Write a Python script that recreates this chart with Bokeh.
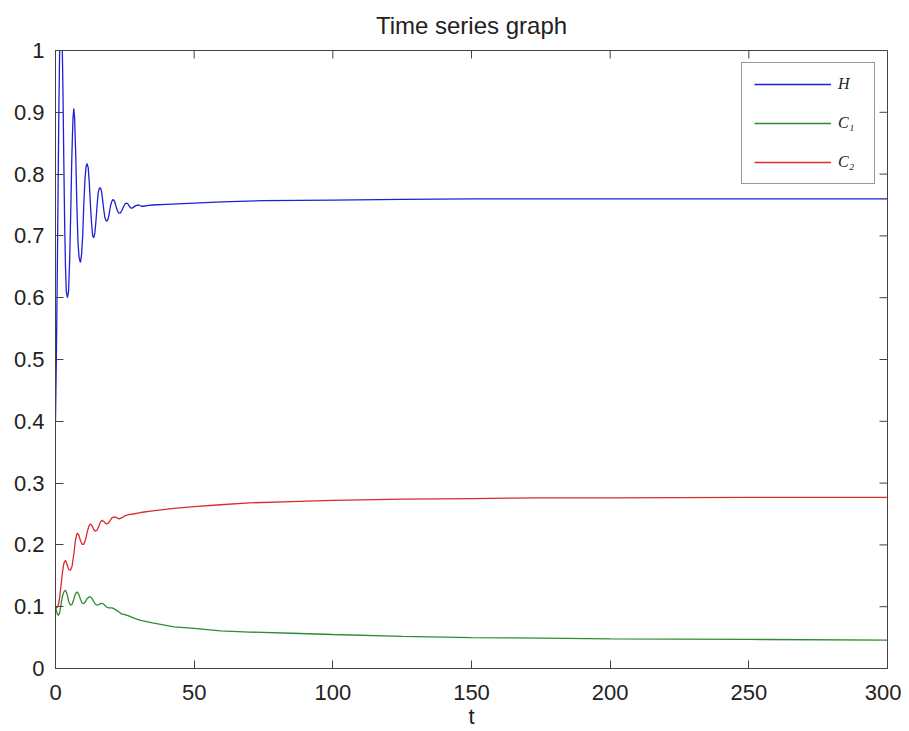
from bokeh.plotting import figure
from bokeh.models import (FixedTicker, CustomJSTickFormatter, Legend,
                          LegendItem, Range1d, ColumnDataSource)
from bokeh.embed import file_html
from bokeh.resources import INLINE

# ---- data ----
t_H = [0, 0.3, 0.6, 0.9, 1.2, 1.5, 1.8, 2.1, 2.4, 2.7, 3.0, 3.3, 3.6, 3.9, 4.3, 4.7,
       5.1, 5.5, 5.9, 6.3, 6.6, 6.9, 7.3, 7.7, 8.1, 8.5, 9.0, 9.4, 9.8, 10.2, 10.6,
       11.0, 11.4, 11.8, 12.2, 12.6, 13.0, 13.4, 13.8, 14.2, 14.6, 15.0, 15.4, 15.8,
       16.2, 16.6, 17.0, 17.4, 17.8, 18.2, 18.6, 19.0, 19.4, 19.8, 20.3, 20.8, 21.3,
       21.8, 22.3, 22.8, 23.4, 24.0, 24.6, 25.1, 25.6, 26.1, 26.6, 27.2, 27.7, 28.3,
       28.9, 30.0, 31.0, 31.8, 33, 35, 40, 50, 60, 75, 100, 125, 150, 200, 250, 300]
H = [0.40, 0.50, 0.62, 0.76, 0.90, 1.00, 1.05, 1.06, 1.02, 0.93, 0.82, 0.72, 0.65, 0.61,
     0.60, 0.61, 0.66, 0.74, 0.83, 0.89, 0.906, 0.89, 0.83, 0.75, 0.69, 0.665, 0.657,
     0.67, 0.70, 0.75, 0.79, 0.812, 0.817, 0.81, 0.785, 0.75, 0.72, 0.70, 0.697, 0.705,
     0.725, 0.75, 0.77, 0.777, 0.778, 0.772, 0.758, 0.742, 0.73, 0.725, 0.724, 0.728,
     0.737, 0.748, 0.756, 0.759, 0.756, 0.748, 0.741, 0.737, 0.737, 0.742, 0.748,
     0.752, 0.753, 0.752, 0.748, 0.745, 0.745, 0.747, 0.749, 0.750, 0.748, 0.748,
     0.749, 0.750, 0.751, 0.753, 0.755, 0.757, 0.758, 0.759, 0.760, 0.760, 0.760, 0.760]

t_C = [0, 0.5, 1.0, 1.5, 2.0, 2.5, 3.0, 3.6, 4.2, 4.8, 5.4, 6.0, 6.6, 7.2, 7.8, 8.4,
       9.0, 9.6, 10.2, 10.8, 11.4, 12.0, 12.6, 13.2, 13.8, 14.4, 15.0, 15.6, 16.2,
       16.8, 17.4, 18.0, 18.6, 19.2, 19.8, 20.4, 21.0, 22, 23, 24, 25, 26.4, 28, 30.7,
       35, 42.7, 50, 59.5, 70, 85, 100, 125, 150, 175, 200, 250, 300]
C1 = [0.100, 0.090, 0.086, 0.090, 0.104, 0.117, 0.124, 0.1265, 0.120, 0.108, 0.1024,
      0.104, 0.112, 0.121, 0.124, 0.120, 0.112, 0.106, 0.105, 0.108, 0.113, 0.1155,
      0.116, 0.113, 0.108, 0.104, 0.1024, 0.103, 0.105, 0.1055, 0.104, 0.101, 0.099,
      0.098, 0.098, 0.098, 0.097, 0.094, 0.091, 0.088, 0.087, 0.085, 0.082, 0.078,
      0.074, 0.0675, 0.065, 0.061, 0.059, 0.057, 0.055, 0.052, 0.050, 0.049, 0.048,
      0.047, 0.046]
C2 = [0.100, 0.098, 0.102, 0.115, 0.135, 0.155, 0.170, 0.175, 0.168, 0.160, 0.159,
      0.166, 0.185, 0.208, 0.219, 0.216, 0.207, 0.201, 0.201, 0.208, 0.220, 0.230,
      0.234, 0.231, 0.225, 0.222, 0.224, 0.230, 0.237, 0.240, 0.238, 0.235, 0.234,
      0.236, 0.240, 0.244, 0.2455, 0.244, 0.242, 0.244, 0.247, 0.249, 0.250, 0.2524,
      0.255, 0.259, 0.262, 0.265, 0.268, 0.270, 0.272, 0.274, 0.275, 0.276, 0.276,
      0.277, 0.277]

x_ticks = [0, 50, 100, 150, 200, 250, 300]
y_ticks = [0, 0.1, 0.2, 0.3, 0.4, 0.5, 0.6, 0.7, 0.8, 0.9, 1.0]
labels = ["H", "C\u2081", "C\u2082"]
colors = ["#1f1fd6", "#2e8b2e", "#dc2b2b"]

FONT = "Liberation Sans"
AX = "#444444"
X0, X1 = 0, 300
Y0, Y1 = 0, 1

p = figure(width=901, height=731, x_range=Range1d(X0, X1), y_range=Range1d(Y0, Y1),
           output_backend="svg", toolbar_location=None, title="Time series graph",
           min_border_left=55, min_border_right=14, min_border_top=50,
           min_border_bottom=61)
p.background_fill_color = "white"
p.border_fill_color = "white"
p.outline_line_color = AX
p.outline_line_width = 1
p.xgrid.visible = False
p.ygrid.visible = False

p.title.align = "center"
p.title.vertical_align = "top"
p.title.text_font = FONT
p.title.text_font_size = "24px"
p.title.text_font_style = "normal"
p.title.text_color = "#222222"
p.title.standoff = 20

src_H = ColumnDataSource(dict(t=t_H, v=H))
src_C = ColumnDataSource(dict(t=t_C, c1=C1, c2=C2))
rH = p.line("t", "v", source=src_H, line_color=colors[0], line_width=1.3)
r1 = p.line("t", "c1", source=src_C, line_color=colors[1], line_width=1.3)
r2 = p.line("t", "c2", source=src_C, line_color=colors[2], line_width=1.3)

xax = p.xaxis[0]
yax = p.yaxis[0]
xax.ticker = FixedTicker(ticks=x_ticks)
yax.ticker = FixedTicker(ticks=y_ticks)
yax.formatter = CustomJSTickFormatter(code="return String(Math.round(tick*10)/10);")
xax.axis_label = "t"

for ax in [xax, yax]:
    ax.major_tick_in = 8
    ax.major_tick_out = 0
    ax.minor_tick_line_color = None
    ax.axis_line_color = AX
    ax.major_tick_line_color = AX
    ax.major_label_text_font = FONT
    ax.major_label_text_font_size = "22px"
    ax.major_label_text_color = "#222222"
    ax.axis_label_text_font = FONT
    ax.axis_label_text_font_size = "22px"
    ax.axis_label_text_font_style = "normal"
    ax.axis_label_text_color = "#222222"

xax.major_label_standoff = 16
xax.axis_label_standoff = 1
yax.major_label_standoff = 11

# inward ticks on the right and top edges of the box (MATLAB style)
tick_dx = (X1 - X0) * 8 / 832.0
tick_dy = (Y1 - Y0) * 8 / 621.0
p.segment(x0=[X1] * len(y_ticks), y0=y_ticks, x1=[X1 - tick_dx] * len(y_ticks),
          y1=y_ticks, line_color=AX, line_width=1)
p.segment(x0=x_ticks, y0=[Y1] * len(x_ticks), x1=x_ticks,
          y1=[Y1 - tick_dy] * len(x_ticks), line_color=AX, line_width=1)

legend = Legend(items=[LegendItem(label=labels[0], renderers=[rH]),
                       LegendItem(label=labels[1], renderers=[r1]),
                       LegendItem(label=labels[2], renderers=[r2])],
                location="top_right", margin=12, padding=12, spacing=21,
                glyph_width=77, glyph_height=16, label_height=16, label_width=24,
                label_standoff=7)
legend.label_text_font = "Liberation Serif"
legend.label_text_font_style = "italic"
legend.label_text_font_size = "16px"
legend.label_text_color = "#222222"
legend.border_line_color = "#333333"
legend.border_line_width = 1
legend.background_fill_color = "white"
legend.background_fill_alpha = 1.0
p.add_layout(legend)

open("out.html", "w").write(file_html(p, INLINE))
